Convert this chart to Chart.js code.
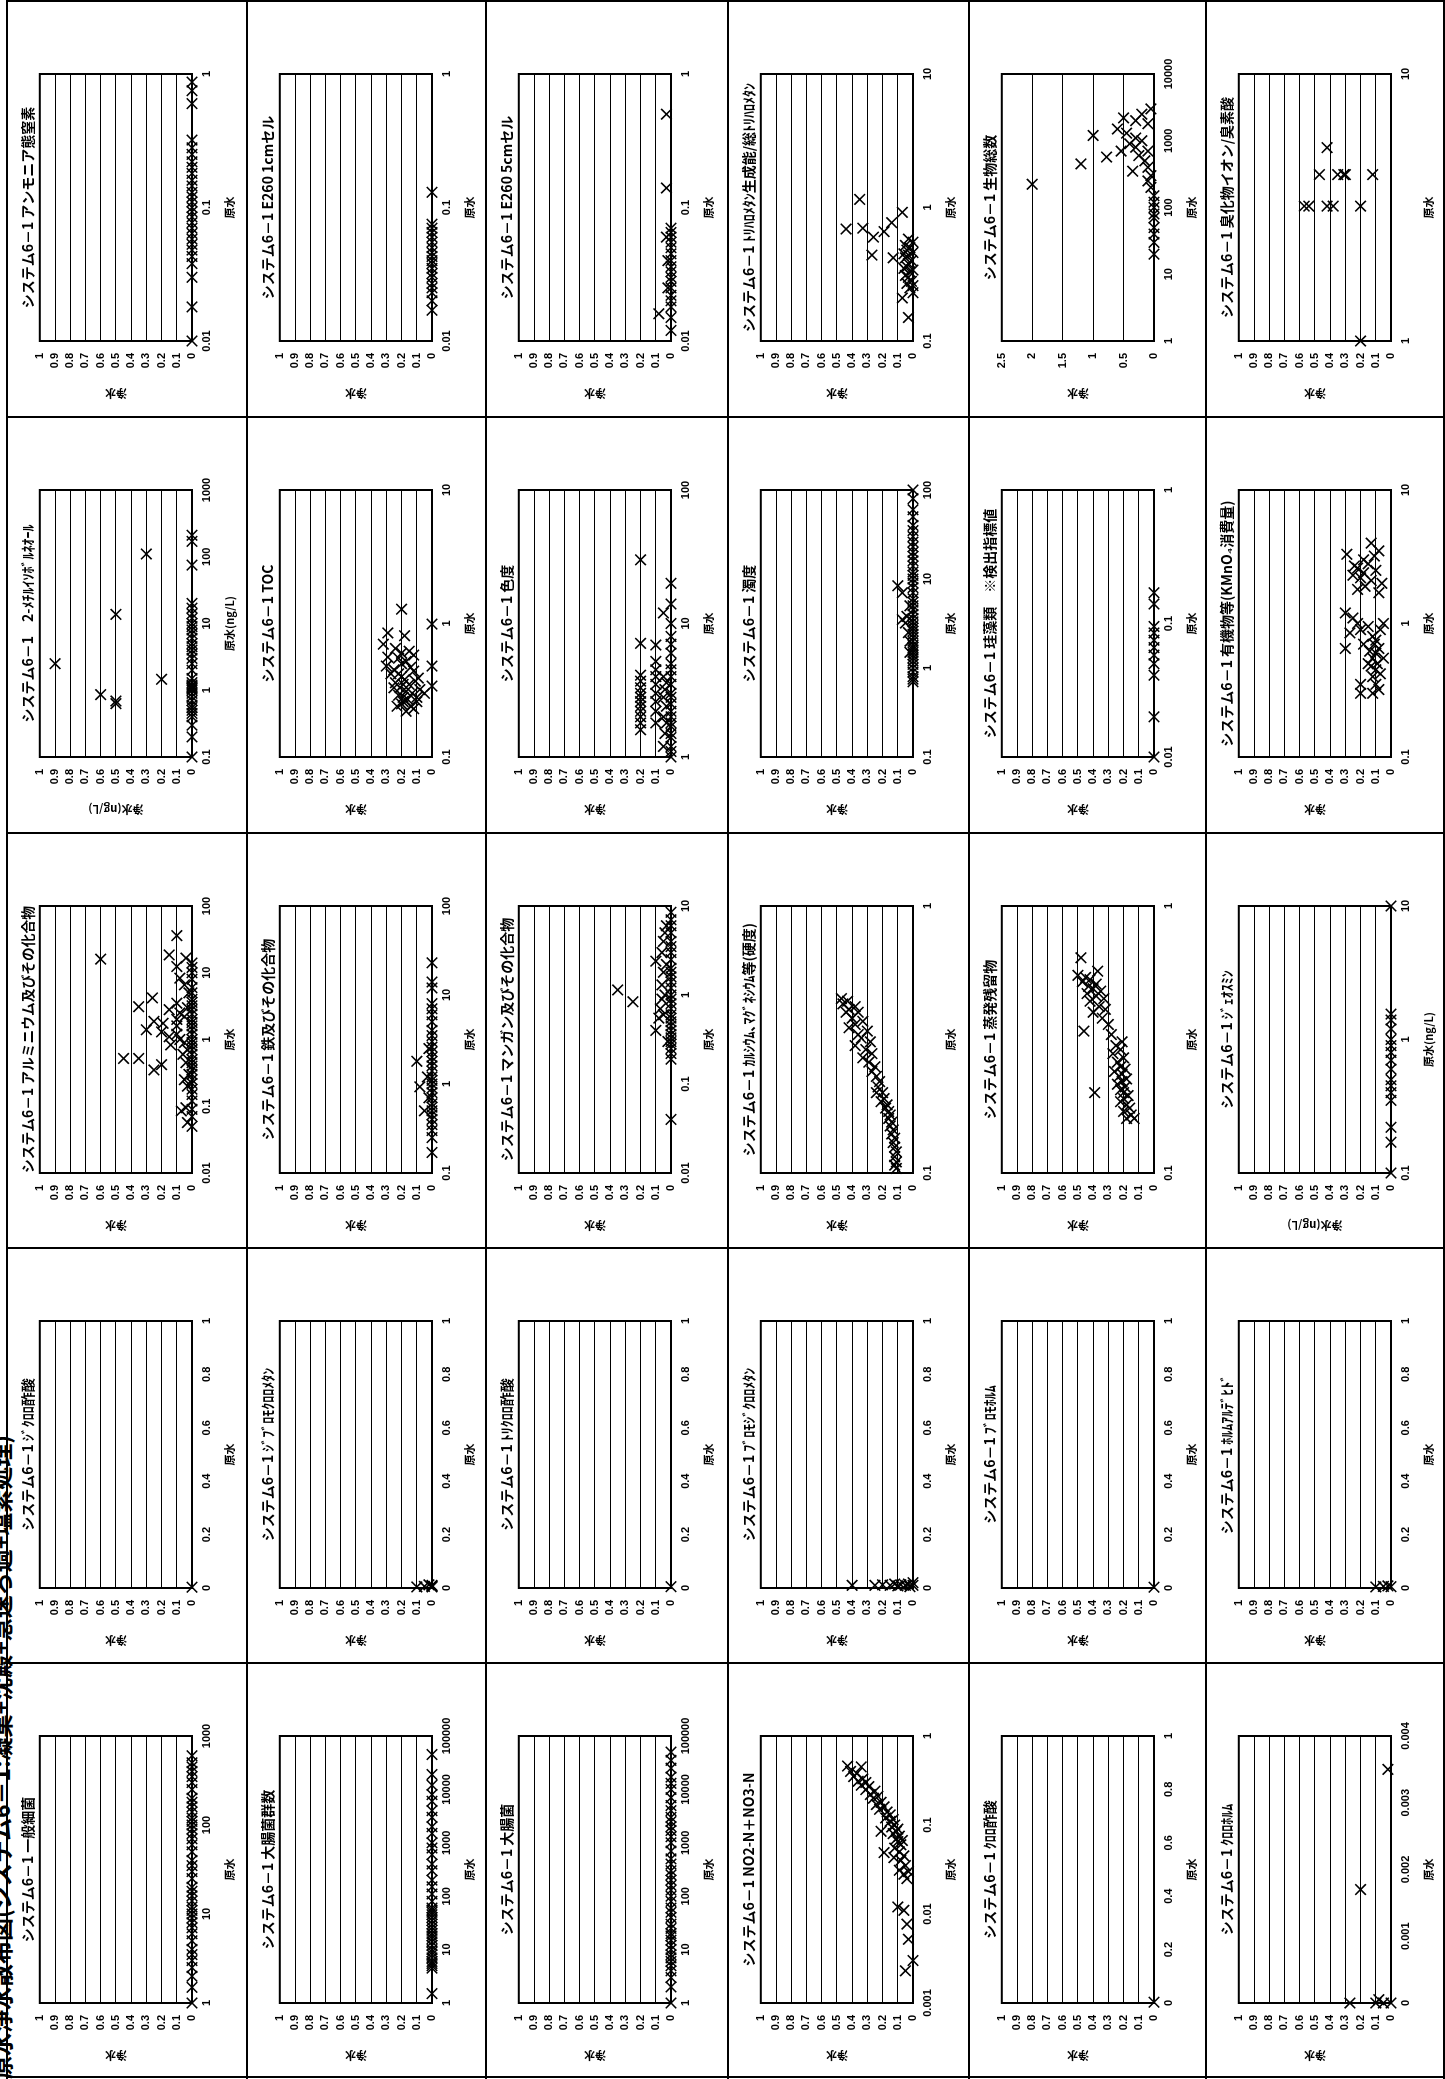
<!DOCTYPE html>
<html lang="ja">
<head>
<meta charset="utf-8">
<script src="https://cdn.jsdelivr.net/npm/chart.js@4.4.1/dist/chart.umd.min.js"></script>
<style>
  html, body { margin: 0; padding: 0; background: #fff; }
  body { width: 1445px; height: 2079px; position: relative; overflow: hidden; }
  .vline { position: absolute; top: 0; width: 2px; height: 2079px; background: #000; }
  .hline { position: absolute; left: 6px; width: 1439px; height: 2px; background: #000; }
  .cell { position: absolute; width: 415px; height: 240px; transform-origin: 0 0; transform: translate(0, 415px) rotate(-90deg); }
  .pagetitle { position: absolute; left: 0; top: 0; white-space: nowrap; font: bold 23px/23px "Noto Sans CJK JP", sans-serif;
               transform-origin: 0 0; transform: translate(-11px, 2079px) rotate(-90deg); }
</style>
</head>
<body>
<div class="pagetitle">原水浄水散布図(システム6－1:凝集+沈殿+急速ろ過+塩素処理)</div>
<script>
// x axis ticks (原水)
const tk001_1 = [0.01, 0.1, 1];
const tk01_10 = [0.1, 1, 10];
const tk1_10 = [1, 10];
const tk1_10000 = [1, 10, 100, 1000, 10000];
const tk01_1000 = [0.1, 1, 10, 100, 1000];
const tk1_100 = [1, 10, 100];
const tk01_100 = [0.1, 1, 10, 100];
const tk001_100 = [0.01, 0.1, 1, 10, 100];
const tk001_10 = [0.01, 0.1, 1, 10];
const tk01_1 = [0.1, 1];
const tkLin1 = [0, 0.2, 0.4, 0.6, 0.8, 1];
const tk1_1000 = [1, 10, 100, 1000];
const tk1_100000 = [1, 10, 100, 1000, 10000, 100000];
const tk0001_1 = [0.001, 0.01, 0.1, 1];
const tkLin0004 = [0, 0.001, 0.002, 0.003, 0.004];

// y axis ticks (浄水)
const yTicks1 = [0, 0.1, 0.2, 0.3, 0.4, 0.5, 0.6, 0.7, 0.8, 0.9, 1];
const yTicksBio = [0, 0.5, 1, 1.5, 2, 2.5];

// [原水, 浄水] per panel
const nh4 = [[0.01,0],[0.018,0],[0.03,0],[0.038,0],[0.043,0],[0.048,0],[0.053,0],[0.058,0],[0.064,0],[0.07,0],[0.077,0],[0.085,0],[0.093,0],[0.1,0],[0.11,0],[0.12,0],[0.13,0],[0.145,0],[0.16,0],[0.18,0],[0.2,0],[0.22,0],[0.25,0],[0.28,0],[0.32,0],[0.6,0],[0.75,0],[0.87,0]];
const e260a = [[0.017,0],[0.02,0],[0.023,0],[0.025,0],[0.027,0],[0.03,0],[0.032,0],[0.035,0],[0.038,0],[0.04,0],[0.043,0],[0.046,0],[0.05,0],[0.055,0],[0.06,0],[0.065,0],[0.07,0],[0.075,0],[0.13,0]];
const e260b = [[0.012,0],[0.015,0],[0.018,0],[0.02,0],[0.022,0],[0.025,0],[0.028,0],[0.03,0],[0.033,0],[0.036,0],[0.04,0],[0.045,0],[0.05,0],[0.055,0],[0.06,0],[0.065,0],[0.07,0],[0.14,0.03],[0.5,0.03],[0.016,0.08],[0.025,0.02],[0.04,0.02],[0.06,0.03]];
const thm = [[1.15,0.35],[0.69,0.44],[0.7,0.33],[0.6,0.26],[0.66,0.19],[0.77,0.14],[0.92,0.07],[0.44,0.27],[0.42,0.13],[0.58,0.03],[0.55,0],[0.52,0.05],[0.5,0.02],[0.48,0.04],[0.46,0],[0.44,0.03],[0.42,0.05],[0.4,0.01],[0.38,0.03],[0.36,0.04],[0.34,0],[0.33,0.02],[0.31,0.05],[0.3,0.03],[0.28,0.01],[0.27,0.04],[0.26,0],[0.25,0.02],[0.23,0],[0.21,0.07],[0.15,0.03],[0.35,0.06],[0.45,0.06]];
const bio = [[223,2.0],[1200,1.0],[450,1.2],[570,0.78],[700,0.54],[1500,0.6],[900,0.4],[2000,0.3],[1800,0.1],[1000,0.2],[800,0.3],[600,0.25],[500,0.15],[400,0.1],[350,0.35],[300,0.05],[1300,0.45],[2500,0.2],[3000,0.05],[250,0.1],[200,0.05],[150,0],[100,0],[70,0],[50,0],[30,0],[20,0],[120,0],[80,0],[40,0],[1100,0.3],[700,0.1],[2200,0.5]];
const bromide = [[1.0,0.2],[3.2,0.57],[3.2,0.54],[3.2,0.42],[3.2,0.38],[3.2,0.2],[4.2,0.47],[4.2,0.35],[4.2,0.3],[4.2,0.31],[4.2,0.12],[5.3,0.42]];

const mib = [[2.5,0.9],[0.86,0.6],[0.69,0.5],[0.63,0.5],[13.7,0.5],[110,0.3],[1.46,0.2],[0.1,0],[0.2,0],[0.3,0],[0.4,0],[0.45,0],[0.5,0],[0.55,0],[0.6,0],[0.7,0],[0.8,0],[0.9,0],[1.0,0],[1.05,0],[1.1,0],[1.15,0],[1.2,0],[1.3,0],[1.5,0],[2,0],[2.5,0],[3,0],[3.5,0],[4,0],[4.5,0],[5,0],[6,0],[7,0],[8,0],[9,0],[10,0],[12,0],[14,0],[17,0],[20,0],[75,0],[170,0],[210,0]];
const toc = [[1.28,0.2],[0.99,0],[0.48,0],[0.34,0],[0.7,0.32],[0.85,0.29],[0.56,0.29],[0.81,0.18],[0.62,0.15],[0.45,0.25],[0.42,0.22],[0.4,0.2],[0.38,0.18],[0.36,0.24],[0.35,0.15],[0.33,0.21],[0.31,0.17],[0.3,0.13],[0.29,0.22],[0.28,0.19],[0.27,0.16],[0.26,0.1],[0.25,0.2],[0.24,0.14],[0.23,0.12],[0.22,0.17],[0.5,0.2],[0.52,0.17],[0.55,0.22],[0.6,0.2],[0.65,0.24],[0.47,0.14],[0.44,0.12],[0.39,0.09],[0.37,0.11],[0.32,0.08],[0.3,0.05],[0.28,0.1],[0.26,0.19],[0.24,0.23],[0.42,0.27],[0.48,0.3],[0.58,0.12],[0.35,0.19],[0.33,0.25]];
const color = [[1.0,0],[1.1,0],[1.2,0],[1.4,0],[1.5,0],[1.7,0],[1.8,0],[2.0,0],[2.2,0],[2.5,0],[2.8,0],[3.0,0],[3.5,0],[4.0,0],[4.5,0],[5,0],[6,0],[7,0],[8,0],[10,0],[14,0],[20,0],
  [1.2,0.05],[1.5,0.04],[1.8,0.03],[2.0,0.05],[2.4,0.03],[2.8,0.05],[3.2,0.04],[3.6,0.03],[12,0.05],[4,0.05],
  [2.2,0.1],[2.6,0.1],[3.0,0.1],[3.5,0.1],[4.0,0.1],[4.5,0.1],[5.2,0.1],[6.9,0.1],[1.8,0.1],
  [1.6,0.2],[1.8,0.2],[2.0,0.2],[2.2,0.2],[2.4,0.2],[2.6,0.2],[2.8,0.2],[3.0,0.2],[3.3,0.2],[3.7,0.2],[4.1,0.2],[7.1,0.2],[30,0.2]];
const turb = [[0.7,0],[0.75,0],[0.8,0],[0.9,0],[1.0,0],[1.1,0],[1.2,0],[1.3,0],[1.4,0],[1.5,0],[1.6,0],[1.7,0],[1.8,0],[2.0,0],[2.2,0],[2.4,0],[2.6,0],[2.8,0],[3.0,0],[3.3,0],[3.6,0],[4.0,0],[4.5,0],[5,0],[5.5,0],[6,0],[7,0],[8,0],[9,0],[10,0],[11,0],[12,0],[14,0],[16,0],[18,0],[20,0],[23,0],[26,0],[30,0],[35,0],[40,0],[50,0],[60,0],[80,0],[100,0],
  [8.4,0.1],[7.0,0.07],[3.5,0.07],[3.2,0.05],[3.8,0.04],[2.5,0.03],[1.5,0.02],[5,0.02],[2,0.02]];
const algae = [[0.01,0],[0.02,0],[0.041,0],[0.05,0],[0.058,0],[0.066,0],[0.075,0],[0.085,0],[0.095,0],[0.14,0],[0.17,0]];
const kmno4 = [[4.0,0.13],[3.3,0.29],[3.5,0.08],[3.0,0.18],[2.8,0.15],[2.6,0.22],[2.5,0.1],[2.3,0.25],[2.2,0.2],[2.1,0.13],[2.0,0.06],[1.9,0.17],[1.8,0.22],[1.7,0.08],[2.4,0.18],[2.7,0.24],[3.2,0.11],
  [1.2,0.3],[1.1,0.25],[1.0,0.05],[0.95,0.15],[0.9,0.2],[0.85,0.27],[0.8,0.12],[0.75,0.1],[0.7,0.18],[0.65,0.08],[0.65,0.3],[0.6,0.1],[0.55,0.12],[0.5,0.09],[0.5,0.15],[0.45,0.1],[0.42,0.07],[0.4,0.12],[0.35,0.2],[0.35,0.1],[0.32,0.08],[0.3,0.2],[0.3,0.12],[0.9,0.07],[0.7,0.11],[0.55,0.05],[0.48,0.13],[0.62,0.14],[1.0,0.22]];

const al = [[0.05,0],[0.07,0],[0.09,0],[0.12,0],[0.15,0],[0.18,0],[0.22,0],[0.25,0],[0.3,0],[0.35,0],[0.4,0],[0.45,0],[0.5,0],[0.6,0],[0.7,0],[0.8,0],[0.9,0],[1.0,0],[1.2,0],[1.4,0],[1.6,0],[1.8,0],[2.0,0],[2.4,0],[2.8,0],[3.2,0],[3.6,0],[4,0],[5,0],[6,0],[8,0],[10,0],[12,0],[14,0],
  [16,0.6],[36,0.1],[18.5,0.15],[16.6,0.04],[12.4,0.1],[8.3,0.08],[6.6,0.05],[3.1,0.35],[4.2,0.26],[1.4,0.3],[1.87,0.25],[1.75,0.19],[1.3,0.2],[1.1,0.15],[0.83,0.14],[0.52,0.45],[0.52,0.35],[0.42,0.2],[0.35,0.25],[2.8,0.15],[3.5,0.1],[2.5,0.08],[2.0,0.1],[1.6,0.1],[1.2,0.1],[1.0,0.08],[0.9,0.05],[0.7,0.03],[0.6,0.06],[0.45,0.04],[2.2,0.05],[3.0,0.03],[5,0.02],[0.3,0.02],[0.2,0.03],[0.095,0.04],[0.085,0.07],[0.057,0.03],[0.25,0.05]];
const fe = [[0.17,0],[0.25,0],[0.3,0],[0.35,0],[0.4,0],[0.45,0],[0.5,0],[0.55,0],[0.6,0],[0.7,0],[0.8,0],[0.9,0],[1.0,0],[1.1,0],[1.2,0],[1.4,0],[1.6,0],[1.8,0],[2.0,0],[2.3,0],[2.6,0],[3.0,0],[3.5,0],[4,0],[5,0],[6,0],[7,0],[8,0],[12,0],[14,0],[23,0],
  [1.8,0.1],[0.93,0.08],[0.5,0.05],[1.2,0.03],[2.5,0.02],[0.7,0.02]];
const mn = [[0.04,0],[0.19,0],[0.22,0],[0.25,0],[0.28,0],[0.3,0],[0.33,0],[0.36,0],[0.4,0],[0.45,0],[0.5,0],[0.55,0],[0.6,0],[0.7,0],[0.8,0],[0.9,0],[1.0,0],[1.2,0],[1.4,0],[1.6,0],[1.8,0],[2.0,0],[2.5,0],[3,0],[3.5,0],[4,0],[5,0],[6,0],[7,0],[8.5,0],
  [1.14,0.35],[0.84,0.25],[2.4,0.1],[0.4,0.1],[0.55,0.08],[0.7,0.07],[0.9,0.06],[1.3,0.06],[1.8,0.05],[3.0,0.06],[4.0,0.05],[5,0.04],[6,0.03],[0.6,0.05],[1.0,0.04],[0.3,0.02],[2.2,0.03]];
const hardness = [[0.45,0.47],[0.44,0.43],[0.43,0.46],[0.42,0.38],[0.41,0.42],[0.4,0.36],[0.4,0.44],[0.38,0.4],[0.37,0.33],[0.36,0.38],[0.35,0.42],[0.34,0.3],[0.33,0.36],[0.32,0.34],[0.31,0.28],[0.3,0.38],[0.29,0.31],[0.28,0.27],[0.27,0.33],[0.26,0.29],[0.25,0.25],[0.24,0.27],[0.23,0.24],[0.22,0.22],[0.21,0.23],[0.2,0.24],[0.2,0.2],[0.19,0.19],[0.185,0.21],[0.18,0.17],[0.175,0.18],[0.17,0.16],[0.165,0.15],[0.16,0.16],[0.155,0.14],[0.15,0.15],[0.145,0.13],[0.14,0.14],[0.135,0.12],[0.13,0.13],[0.125,0.12],[0.12,0.11],[0.115,0.12],[0.11,0.11],[0.107,0.12],[0.104,0.11]];
const residue = [[0.64,0.48],[0.57,0.37],[0.55,0.5],[0.54,0.45],[0.53,0.42],[0.52,0.47],[0.51,0.38],[0.5,0.43],[0.49,0.4],[0.48,0.35],[0.47,0.44],[0.46,0.38],[0.45,0.33],[0.44,0.42],[0.42,0.36],[0.41,0.32],[0.4,0.4],[0.38,0.34],[0.36,0.3],[0.34,0.46],[0.33,0.28],[0.31,0.21],[0.3,0.25],[0.29,0.22],[0.28,0.27],[0.27,0.2],[0.26,0.24],[0.25,0.22],[0.245,0.19],[0.24,0.26],[0.235,0.21],[0.23,0.23],[0.225,0.18],[0.22,0.21],[0.215,0.24],[0.21,0.19],[0.205,0.22],[0.2,0.39],[0.2,0.2],[0.195,0.17],[0.19,0.2],[0.185,0.22],[0.18,0.18],[0.175,0.16],[0.17,0.2],[0.165,0.15],[0.16,0.18],[0.16,0.13]];
const geosmin = [[0.1,0],[0.17,0],[0.22,0],[0.35,0],[0.4,0],[0.45,0],[0.5,0],[0.6,0],[0.7,0],[0.8,0],[0.9,0],[1.0,0],[1.2,0],[1.4,0],[1.55,0],[10,0]];

const dca = [[0.003,0]];
const dbcm = [[0.004,0],[0.006,0],[0.008,0],[0.01,0],[0.012,0.02],[0.006,0.05],[0.004,0.1]];
const tca = [[0.005,0]];
const bdcm = [[0.01,0.4],[0.01,0.25],[0.012,0.2],[0.01,0.15],[0.015,0.12],[0.008,0.1],[0.012,0.08],[0.01,0.05],[0.015,0.03],[0.01,0],[0.02,0],[0.005,0.02]];
const bromoform = [[0.003,0]];
const formaldehyde = [[0.005,0],[0.006,0.05],[0.004,0.1],[0.008,0.02]];

const bacteria = [[1,0],[1.5,0],[2,0],[2.5,0],[3,0],[3.5,0],[4,0],[5,0],[6,0],[7,0],[8,0],[9,0],[10,0],[11,0],[12,0],[14,0],[16,0],[18,0],[20,0],[25,0],[30,0],[35,0],[40,0],[50,0],[60,0],[70,0],[80,0],[90,0],[100,0],[110,0],[120,0],[140,0],[160,0],[180,0],[200,0],[250,0],[300,0],[350,0],[400,0],[450,0],[500,0],[600,0]];
const coliforms = [[1.5,0],[4.5,0],[5,0],[5.5,0],[6,0],[7,0],[8,0],[9,0],[10,0],[12,0],[14,0],[16,0],[18,0],[20,0],[23,0],[26,0],[30,0],[35,0],[40,0],[45,0],[50,0],[55,0],[60,0],[80,0],[110,0],[150,0],[200,0],[300,0],[400,0],[600,0],[800,0],[1000,0],[1500,0],[2000,0],[3000,0],[4000,0],[6000,0],[8000,0],[12000,0],[19000,0],[45000,0]];
const ecoli = [[1,0],[2,0],[3,0],[4,0],[5,0],[6,0],[7,0],[8,0],[10,0],[12,0],[15,0],[18,0],[20,0],[25,0],[30,0],[40,0],[50,0],[60,0],[80,0],[100,0],[130,0],[160,0],[200,0],[250,0],[300,0],[400,0],[500,0],[700,0],[1000,0],[1300,0],[1700,0],[2000,0],[2500,0],[3000,0],[4000,0],[5000,0],[7000,0],[10000,0],[13000,0],[17000,0],[25000,0],[35000,0],[50000,0]];
const nox = [[0.46,0.43],[0.45,0.34],[0.4,0.41],[0.38,0.37],[0.35,0.39],[0.33,0.33],[0.31,0.36],[0.3,0.31],[0.28,0.34],[0.27,0.29],[0.25,0.31],[0.24,0.25],[0.22,0.28],[0.21,0.23],[0.2,0.26],[0.18,0.21],[0.17,0.24],[0.16,0.19],[0.15,0.22],[0.14,0.17],[0.13,0.15],[0.12,0.18],[0.115,0.13],[0.11,0.15],[0.1,0.12],[0.095,0.14],[0.09,0.1],[0.085,0.21],[0.085,0.11],[0.08,0.13],[0.075,0.09],[0.07,0.11],[0.067,0.07],[0.065,0.1],[0.06,0.08],[0.055,0.12],[0.05,0.09],[0.049,0.19],[0.045,0.06],[0.043,0.125],[0.04,0.08],[0.035,0.05],[0.031,0.09],[0.03,0.03],[0.028,0.06],[0.025,0.04],[0.012,0.1],[0.011,0.06],[0.0077,0.04],[0.0052,0.03],[0.0023,0.05],[0.003,0]];
const mca = [[0.003,0]];
const chloroform = [[0.0035,0.02],[0.0017,0.2],[0,0.27],[0,0.1],[0,0.05],[0,0],[0.00005,0.08]];

const panelTitles = [
  'システム6－1 アンモニア態窒素', 'システム6－1 E260 1cmセル', 'システム6－1 E260 5cmセル', 'システム6－1 ﾄﾘﾊﾛﾒﾀﾝ生成能/総ﾄﾘﾊﾛﾒﾀﾝ', 'システム6－1 生物総数', 'システム6－1 臭化物イオン/臭素酸',
  'システム6－1　2-ﾒﾁﾙｲｿﾎﾞﾙﾈｵｰﾙ', 'システム6－1 TOC', 'システム6－1 色度', 'システム6－1 濁度', 'システム6－1 珪藻類　※検出指標値', 'システム6－1 有機物等(KMnO₄消費量)',
  'システム6－1 アルミニウム及びその化合物', 'システム6－1 鉄及びその化合物', 'システム6－1 マンガン及びその化合物', 'システム6－1 ｶﾙｼｳﾑ､ﾏｸﾞﾈｼｳﾑ等(硬度)', 'システム6－1 蒸発残留物', 'システム6－1 ｼﾞｪｵｽﾐﾝ',
  'システム6－1 ｼﾞｸﾛﾛ酢酸', 'システム6－1 ｼﾞﾌﾞﾛﾓｸﾛﾛﾒﾀﾝ', 'システム6－1 ﾄﾘｸﾛﾛ酢酸', 'システム6－1 ﾌﾞﾛﾓｼﾞｸﾛﾛﾒﾀﾝ', 'システム6－1 ﾌﾞﾛﾓﾎﾙﾑ', 'システム6－1 ﾎﾙﾑｱﾙﾃﾞﾋﾄﾞ',
  'システム6－1 一般細菌', 'システム6－1 大腸菌群数', 'システム6－1 大腸菌', 'システム6－1 NO2-N＋NO3-N', 'システム6－1 ｸﾛﾛ酢酸', 'システム6－1 ｸﾛﾛﾎﾙﾑ'
];
const panelPoints = [nh4, e260a, e260b, thm, bio, bromide, mib, toc, color, turb, algae, kmno4, al, fe, mn, hardness, residue, geosmin,
  dca, dbcm, tca, bdcm, bromoform, formaldehyde, bacteria, coliforms, ecoli, nox, mca, chloroform];
const panelXTicks = [tk001_1, tk001_1, tk001_1, tk01_10, tk1_10000, tk1_10, tk01_1000, tk01_10, tk1_100, tk01_100, tk001_1, tk01_10,
  tk001_100, tk01_100, tk001_10, tk01_1, tk01_1, tk01_10, tkLin1, tkLin1, tkLin1, tkLin1, tkLin1, tkLin1,
  tk1_1000, tk1_100000, tk1_100000, tk0001_1, tkLin1, tkLin0004];
const ngPanels = [6, 17];      // 2-MIB, ジェオスミン use ng/L
const bioPanel = 4;            // 生物総数 uses a 0-2.5 浄水 axis

const colX = [6, 246, 485, 727, 968, 1205];
const rowY = [0, 416, 832, 1247, 1662];

const boxFrame = {
  id: 'boxFrame',
  beforeDatasetsDraw(chart) {
    const a = chart.chartArea, ctx = chart.ctx;
    ctx.save();
    ctx.strokeStyle = '#000';
    ctx.lineWidth = 2;
    ctx.strokeRect(a.left, a.top, a.right - a.left, a.bottom - a.top);
    ctx.restore();
  }
};

const fmt = v => String(+(+v).toFixed(4));
const jp = '"Noto Sans CJK JP", sans-serif';

// grid lines of the table
[6, 246, 485, 727, 968, 1205, 1443].forEach(x => {
  const d = document.createElement('div'); d.className = 'vline'; d.style.left = x + 'px'; document.body.appendChild(d);
});
[0, 416, 832, 1247, 1662, 2076].forEach(y => {
  const d = document.createElement('div'); d.className = 'hline'; d.style.top = y + 'px'; document.body.appendChild(d);
});

panelTitles.forEach((title, i) => {
  const r = Math.floor(i / 6), c = i % 6;
  const holder = document.createElement('div');
  holder.className = 'cell';
  holder.style.left = colX[c] + 'px';
  holder.style.top = rowY[r] + 'px';
  const cv = document.createElement('canvas');
  cv.width = 415; cv.height = 240;
  holder.appendChild(cv);
  document.body.appendChild(holder);

  const xt = panelXTicks[i];
  const yt = i === bioPanel ? yTicksBio : yTicks1;
  const isLog = xt[0] > 0;
  const ng = ngPanels.includes(i);

  new Chart(cv, {
    type: 'scatter',
    data: {
      datasets: [{
        data: panelPoints[i].map(p => ({ x: p[0], y: p[1] })),
        pointStyle: 'crossRot',
        pointRadius: 7.5,
        pointBorderWidth: 1.6,
        pointBorderColor: '#000',
        pointBackgroundColor: 'rgba(0,0,0,0)',
        clip: false
      }]
    },
    options: {
      responsive: false,
      animation: false,
      events: [],
      layout: { padding: { right: 74 } },
      plugins: {
        legend: { display: false },
        tooltip: { enabled: false },
        title: {
          display: true, text: title, fullSize: false, color: '#000',
          font: { family: jp, size: 14, weight: 'bold' },
          padding: { top: 13, bottom: 4 }
        }
      },
      scales: {
        x: {
          type: isLog ? 'logarithmic' : 'linear',
          min: xt[0], max: xt[xt.length - 1],
          grid: { display: false, drawTicks: false },
          border: { display: false },
          afterBuildTicks: s => { s.ticks = xt.map(v => ({ value: v })); },
          afterFit: s => { s.height = 54; },
          ticks: { color: '#000', padding: 8, maxRotation: 0, autoSkip: false,
                   font: { family: 'Liberation Sans', size: 11, weight: 'bold' }, callback: v => fmt(v) },
          title: { display: true, text: ng ? '原水(ng/L)' : '原水', color: '#000',
                   font: { family: jp, size: 11, weight: 'bold' }, padding: { top: 0, bottom: 10 } }
        },
        y: {
          min: yt[0], max: yt[yt.length - 1],
          grid: { color: '#000', lineWidth: 1, drawTicks: false },
          border: { display: false },
          afterBuildTicks: s => { s.ticks = yt.map(v => ({ value: v })); },
          afterFit: s => { s.width = 74; },
          ticks: { color: '#000', padding: 12, autoSkip: false,
                   font: { family: 'Liberation Sans', size: 11, weight: 'bold' }, callback: v => fmt(v) },
          title: { display: true, text: ng ? '浄水(ng/L)' : '浄水', color: '#000',
                   font: { family: jp, size: 11, weight: 'bold' }, padding: { top: 15, bottom: 0 } }
        }
      }
    },
    plugins: [boxFrame]
  });
});
</script>
</body>
</html>
